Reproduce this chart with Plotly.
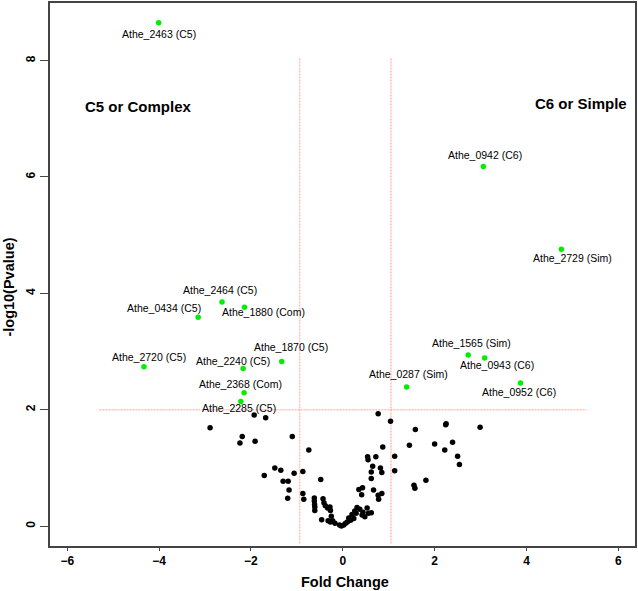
import plotly.graph_objects as go

# ---- data ----
black_fc = [-2.89, -1.93, -1.68, -2.19, -2.24, -1.91, -1.10, -0.74, -1.48, -1.35,
            -1.71, -1.06, -0.87, -1.30, -1.19, -1.17, -1.20, -0.87, -0.85, -0.48,
            -0.62, -0.62, -0.615, -0.61, -0.61, -0.43, -0.41, -0.38, -0.33, -0.28,
            -0.27, -0.46, -0.25, -0.32, -0.27, -0.22, -0.17, -0.07, -0.03,
            0.02, 0.06, 0.10, 0.13, 0.17, 0.20, 0.24, 0.29, 0.26, 0.31,
            0.37, 0.42, 0.44, 0.48, 0.53, 0.56, 0.62, 0.35, 0.43, 0.41,
            0.67, 0.77, 0.85, 0.78, 0.62, 0.62, 0.65, 0.82, 0.85, 0.54,
            0.55, 0.72, 0.87, 0.77, 1.04, 1.13, 1.13, 1.45, 1.58, 1.55,
            1.57, 1.81, 2.00, 2.22, 2.25, 2.24, 2.39, 2.50, 2.54, 2.99]
black_p = [1.69, 1.91, 1.86, 1.54, 1.43, 1.46, 1.54, 1.31, 1.00, 0.96,
           0.87, 0.91, 0.94, 0.77, 0.77, 0.62, 0.48, 0.56, 0.46, 0.80,
           0.485, 0.43, 0.37, 0.33, 0.27, 0.47, 0.40, 0.35, 0.31, 0.33,
           0.27, 0.11, 0.17, 0.09, 0.07, 0.09, 0.05, 0.02, 0.00,
           0.02, 0.05, 0.07, 0.14, 0.10, 0.20, 0.13, 0.22, 0.26, 0.32,
           0.29, 0.19, 0.24, 0.16, 0.31, 0.22, 0.23, 0.63, 0.66, 0.54,
           0.62, 0.53, 0.56, 0.46, 0.93, 0.82, 1.03, 1.00, 0.92, 1.19,
           1.14, 1.19, 1.36, 1.93, 1.80, 1.20, 0.95, 1.39, 1.66, 0.70,
           0.65, 0.79, 1.41, 1.31, 1.76, 1.74, 1.44, 1.20, 1.06, 1.70]

green_labels = ["Athe_2463 (C5)", "Athe_0942 (C6)", "Athe_2729 (Sim)", "Athe_2464 (C5)",
                "Athe_1880 (Com)", "Athe_0434 (C5)", "Athe_1870 (C5)", "Athe_2720 (C5)",
                "Athe_2240 (C5)", "Athe_2368 (Com)", "Athe_2285 (C5)", "Athe_1565 (Sim)",
                "Athe_0943 (C6)", "Athe_0287 (Sim)", "Athe_0952 (C6)"]
green_fc = [-4.01, 3.06, 4.76, -2.63, -2.14, -3.15, -1.33, -4.33, -2.17, -2.15,
            -2.22, 2.73, 3.09, 1.39, 3.87]
green_p = [8.65, 6.18, 4.76, 3.85, 3.76, 3.59, 2.83, 2.74, 2.71, 2.29,
           2.14, 2.94, 2.89, 2.39, 2.46]

# label offsets in pixels (right, down) relative to each point
label_dx = [0, 2, 11, -2, 19, -34, 9, 5, -10, -4, -2, 3, 12, 2, -2]
label_dy = [11, -12, 9, -12, 5, -9, -14, -10, -7, -9, 6, -12, 7, -13, 9]

fc_low, fc_high, p_cut = -0.94, 1.05, 2.0
hline_span = [-5.3, 5.3]
vline_span = [-0.3, 8.05]

x_ticks = [-6, -4, -2, 0, 2, 4, 6]
y_ticks = [0, 2, 4, 6, 8]

region_texts = ["C5 or Complex", "C6 or Simple"]
region_x = [-4.44, 5.19]
region_y = [7.21, 7.27]

FONT = "Liberation Sans, Arial, Helvetica, sans-serif"
line_col = "rgba(255,120,110,0.45)"

fig = go.Figure()

# threshold lines
for xv in (fc_low, fc_high):
    fig.add_trace(go.Scatter(x=[xv, xv], y=vline_span, mode="lines",
                             line=dict(color=line_col, width=1.6, dash="2px,1px"),
                             hoverinfo="skip"))
fig.add_trace(go.Scatter(x=hline_span, y=[p_cut, p_cut], mode="lines",
                         line=dict(color=line_col, width=1.6, dash="2px,1px"),
                         hoverinfo="skip"))

fig.add_trace(go.Scatter(x=black_fc, y=black_p, mode="markers",
                         marker=dict(color="black", size=5.5, line=dict(width=0))))
fig.add_trace(go.Scatter(x=green_fc, y=green_p, mode="markers",
                         marker=dict(color="#00ee00", size=5.5, line=dict(width=0)),
                         text=green_labels))

for lab, xv, yv, dx, dy in zip(green_labels, green_fc, green_p, label_dx, label_dy):
    fig.add_annotation(x=xv, y=yv, text=lab, showarrow=False,
                       xanchor="center", yanchor="middle",
                       xshift=dx, yshift=-dy,
                       font=dict(family=FONT, size=10.5, color="black"))

for t, xv, yv in zip(region_texts, region_x, region_y):
    fig.add_annotation(x=xv, y=yv, text=t, showarrow=False,
                       xanchor="center", yanchor="middle",
                       font=dict(family=FONT, size=15, color="black", weight="bold"))

# axis titles
fig.add_annotation(x=0.505, y=-0.0655, xref="paper", yref="paper", text="Fold Change",
                   showarrow=False, xanchor="center", yanchor="middle",
                   font=dict(family=FONT, size=14.5, color="black", weight="bold"))
fig.add_annotation(x=-0.0717, y=0.476, xref="paper", yref="paper", text="-log10(Pvalue)",
                   textangle=-90, showarrow=False, xanchor="center", yanchor="middle",
                   font=dict(family=FONT, size=14.5, color="black", weight="bold"))

axis_common = dict(showgrid=False, zeroline=False, showline=True, mirror=True,
                   linecolor="#444", linewidth=1.5, ticks="outside", tickcolor="#444",
                   tickfont=dict(family=FONT, size=12, color="black", weight="bold"))

fig.update_layout(
    width=638, height=591,
    margin=dict(l=50, r=2, t=1, b=45),
    paper_bgcolor="white", plot_bgcolor="white",
    showlegend=False,
    xaxis=dict(range=[-6.376, 6.363], tickvals=x_ticks, ticklen=3, **axis_common),
    yaxis=dict(range=[-0.342, 8.99], tickvals=y_ticks, ticklen=8, tickangle=-90,
               **axis_common),
)

fig.write_html("out.html", config={"displayModeBar": False})

# remove default page margin so the figure sits at the window's top-left corner
with open("out.html", "r", encoding="utf-8") as f:
    html = f.read()
html = html.replace("<head>", "<head><style>html,body{margin:0;padding:0;overflow:hidden;}</style>", 1)
with open("out.html", "w", encoding="utf-8") as f:
    f.write(html)
